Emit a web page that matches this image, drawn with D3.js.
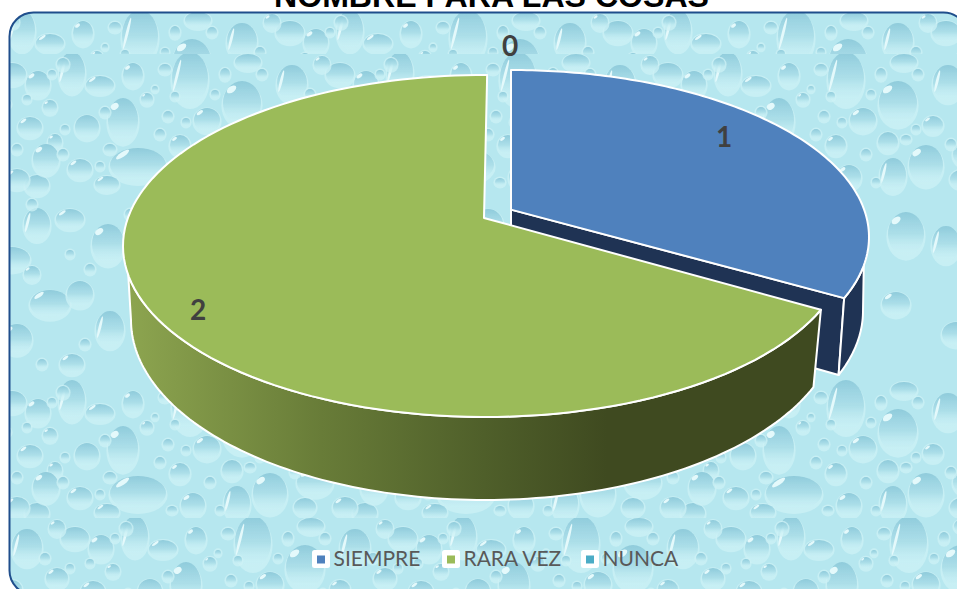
<!DOCTYPE html>
<html><head><meta charset="utf-8">
<script src="https://cdnjs.cloudflare.com/ajax/libs/d3/7.8.5/d3.min.js"></script>
<style>html,body{margin:0;padding:0;background:#fff;overflow:hidden}svg{display:block}</style>
</head><body><svg id="c" width="957" height="589"></svg>
<script>
const chartTitle = "NOMBRE PARA LAS COSAS";
const categories = ["SIEMPRE", "RARA VEZ", "NUNCA"];
const values = [1, 2, 0];
const colors = ["#4f81bd", "#9bbb59", "#4bacc6"];

// decorative water-drop wallpaper, one 328px tile: x, y, rx, ry, kind
const texture = [
 [12,18,13,20,"s"],[40,31,14,9,"h"],[73,21,10,12,"h"],[306,30,12,13,"h"],[63,66,15,22,"h"],[27,73,12,12,"n"],
 [318,53,7,7,"h"],[298,73,12,10,"h"],[120,91,10,10,"h"],[78,111,28,17,"h"],[20,115,12,10,"h"],[305,131,12,10,"n"],
 [47,130,12,8,"h"],[133,123,12,12,"h"],[147,66,13,12,"h"],[172,88,10,10,"n"],[210,111,17,20,"h"],[177,121,13,17,"s"],
 [87,45,6,6,"h"],[323,88,7,8,"h"],[130,24,18,26,"s"],[182,49,19,22,"h"],[232,29,15,18,"s"],[188,8,13,8,"n"],
 [217,71,10,9,"h"],[285,125,12,10,"h"],[314,105,13,15,"h"],[255,100,18,14,"h"],[245,125,11,9,"n"],[262,60,11,10,"h"],
 [280,20,14,11,"n"],[262,10,8,8,"h"],
 [10,165,14,10,"h"],[48,190,16,20,"h"],[305,170,13,16,"s"],[280,205,18,12,"h"],[20,240,13,13,"n"],[318,250,20,14,"h"],
 [50,275,14,18,"s"],[285,285,15,15,"h"],[12,310,12,10,"h"],[300,220,8,8,"h"],[190,180,18,22,"h"],[180,250,14,12,"h"],
 [100,170,15,15,"h"],[110,260,20,14,"h"],[230,190,14,18,"s"],[240,280,14,12,"n"],
 // small drops
 [105,15,6,5,"n"],[108,62,5,5,"n"],[45,58,5,5,"n"],[3,10,6,6,"n"],[165,20,5,6,"n"],[202,20,5,5,"n"],[250,40,5,5,"n"],
 [115,42,4,4,"n"],[100,80,5,5,"n"],[150,100,5,5,"n"],[155,40,4,4,"n"],[190,85,5,4,"n"],[50,95,6,5,"n"],[3,100,5,5,"n"],
 [285,95,5,5,"n"],[275,50,4,4,"n"],[40,112,4,4,"n"],[112,128,5,4,"n"],[160,128,4,4,"n"],[235,90,5,5,"n"],[320,20,4,4,"n"],
 [295,45,4,4,"n"],[200,75,4,4,"n"],[95,35,3,3,"n"],[126,68,4,4,"n"],[5,75,4,4,"n"],[70,160,5,5,"n"],[30,215,5,5,"n"],
 [300,150,5,5,"n"],[270,165,5,5,"n"],[10,200,4,4,"n"],[75,235,5,5,"n"],[25,290,5,5,"n"],[310,310,5,5,"n"],[265,250,5,5,"n"]
];

const W = 957, H = 589, TILE = 328;
const svg = d3.select("#c");
const defs = svg.append("defs");

const dropGrad = defs.append("linearGradient").attr("id","drop").attr("x1",0).attr("y1",0).attr("x2",0).attr("y2",1);
[[0,"#8fcbdb",1],[0.5,"#a7dce7",0.85],[0.9,"#c6eff5",0.25],[1,"#c6eff5",0]]
  .forEach(s=>dropGrad.append("stop").attr("offset",s[0]).attr("stop-color",s[1]).attr("stop-opacity",s[2]));
const blur = defs.append("filter").attr("id","soft").attr("x",0).attr("y",0).attr("width",1).attr("height",1);
blur.append("feGaussianBlur").attr("stdDeviation",0.7);

const tile = defs.append("g").attr("id","tile");
tile.append("rect").attr("width",TILE).attr("height",TILE).attr("fill","#b6e7ef");
const tileInner = tile.append("g").attr("filter","url(#soft)");
[-TILE,0,TILE].forEach(ox=>[-TILE,0,TILE].forEach(oy=>{
  const g = tileInner.append("g").attr("transform",`translate(${ox},${oy})`);
  texture.forEach(([x,y,rx,ry,k])=>{
    if (x+ox+rx+3<0||x+ox-rx-3>TILE||y+oy+ry+3<0||y+oy-ry-3>TILE) return;
    g.append("ellipse").attr("cx",x).attr("cy",y+ry*0.12).attr("rx",rx+1.6).attr("ry",ry+2)
      .attr("fill","#cdf2f6").attr("opacity",0.75);
    g.append("ellipse").attr("cx",x).attr("cy",y).attr("rx",rx).attr("ry",ry).attr("fill","url(#drop)");
    if (k==="h") g.append("ellipse").attr("cx",x-rx*0.55).attr("cy",y-ry*0.62)
      .attr("rx",Math.max(1,rx*0.28)).attr("ry",Math.max(0.8,ry*0.14))
      .attr("transform",`rotate(-35 ${x-rx*0.55} ${y-ry*0.62})`).attr("fill","#e4f9fb");
    if (k==="s") g.append("ellipse").attr("cx",x-rx*0.72).attr("cy",y-ry*0.1)
      .attr("rx",1.4).attr("ry",ry*0.62)
      .attr("transform",`rotate(14 ${x-rx*0.72} ${y-ry*0.1})`).attr("fill","#e4f9fb");
  });
}));

const bands = [
  {id:"bA", ox:10,  oy:12,  y:0,   h:54},
  {id:"bB", ox:60,  oy:54,  y:54,  h:328},
  {id:"bC", ox:60,  oy:382, y:382, h:136},
  {id:"bD", ox:123, oy:518, y:518, h:71}
];
bands.forEach(b=>{
  defs.append("pattern").attr("id",b.id).attr("patternUnits","userSpaceOnUse")
    .attr("x",b.ox).attr("y",b.oy).attr("width",TILE).attr("height",TILE)
    .append("use").attr("href","#tile");
});
const panel = {x:9.5,y:12.5,w:958,h:582,r:24};
defs.append("clipPath").attr("id","panelClip").append("rect")
  .attr("x",panel.x).attr("y",panel.y).attr("width",panel.w).attr("height",panel.h).attr("rx",panel.r);

const sideGrad = defs.append("linearGradient").attr("id","greenSide").attr("gradientUnits","userSpaceOnUse")
  .attr("x1",131).attr("y1",0).attr("x2",811).attr("y2",0);
[[0,"#8ca44f"],[0.28,"#687c38"],[0.52,"#4f5f2a"],[0.7,"#3f4a20"],[1,"#3f4a20"]]
  .forEach(s=>sideGrad.append("stop").attr("offset",s[0]).attr("stop-color",s[1]));

const bg = svg.append("g").attr("clip-path","url(#panelClip)");
bands.forEach(b=>bg.append("rect").attr("x",0).attr("y",b.y).attr("width",W+20).attr("height",b.h).attr("fill",`url(#${b.id})`));
svg.append("rect").attr("x",panel.x).attr("y",panel.y).attr("width",panel.w).attr("height",panel.h).attr("rx",panel.r)
  .attr("fill","none").attr("stroke","#1f4e8c").attr("stroke-width",2);

svg.append("text").attr("x",491.5).attr("y",6.5).attr("text-anchor","middle")
  .attr("font-family","'Liberation Sans',Arial,sans-serif").attr("font-weight","bold").attr("font-size",32)
  .attr("textLength",435).attr("lengthAdjust","spacingAndGlyphs")
  .attr("fill","#000").text(chartTitle);

// pie geometry: true angles from d3.pie, seen through a perspective tilt
const tilt = 0.164;
const project = th => {
  const u = Math.sin(th), v = -Math.cos(th), d = 1 - tilt*v;
  return [u*Math.sqrt(1-tilt*tilt)/d, (v-tilt)/d];
};
const geo = [
  {rot:0,     top:{cx:511,cy:237,rx:358,ry:167}, bot:{cx:511,cy:311,rx:352,ry:175}},
  {rot:0.007, top:{cx:485,cy:246,rx:362,ry:171}, bot:{cx:485,cy:320,rx:354,ry:180}},
  {rot:0,     top:{cx:511,cy:237,rx:358,ry:167}, bot:{cx:511,cy:311,rx:352,ry:175}}
];
const at = (e,th)=>{const [u,v]=project(th);return [e.cx+e.rx*u,e.cy+e.ry*v];};
const apex = e => [e.cx, e.cy - e.ry*tilt];
const line = d3.line();
const arcPts = (e,a,b)=>d3.range(0,121).map(i=>at(e,a+(b-a)*i/120));
const inv = v => { // true angle on the near side whose projected v equals v
  const w=(v+tilt)/(1+tilt*v); return Math.PI-Math.acos(w);
};

const arcs = d3.pie().sort(null).startAngle(0).endAngle(2*Math.PI)(values);
const pies = svg.append("g");
const shape = (pts,fill)=>pies.append("path").attr("d",line(pts)+"Z").attr("fill",fill)
  .attr("stroke","#fff").attr("stroke-width",2).attr("stroke-linejoin","round");

// blue slice: inner wall, outer wall, top
{
  const {top,bot} = geo[0], a = arcs[0];
  const dark = "#1f3354";
  shape([apex(top),at(top,a.endAngle),at(bot,a.endAngle),apex(bot)],dark);
  const s0 = inv(0.17), s1 = Math.PI/2 + 0.17;
  shape([...arcPts(top,s0,a.endAngle),...arcPts(bot,a.endAngle,s1)],dark);
  shape([apex(top),...arcPts(top,a.startAngle,a.endAngle)],colors[0]);
}
// green slice: outer wall, top
{
  const {top,bot,rot} = geo[1], a = arcs[1];
  const s = a.startAngle+rot, e = a.endAngle+rot;
  const sEnd = 2*Math.PI - inv(0.17), bEnd = 2*Math.PI - (Math.PI/2 + 0.165);
  shape([...arcPts(top,s,sEnd),...arcPts(bot,bEnd,s)],"url(#greenSide)");
  const ap = apex(top);
  shape([[ap[0]-1,ap[1]],...arcPts(top,s,e)],colors[1]);
}

// data labels
const labelPos = [[724,137],[198,310],[510,46]];
svg.append("g").selectAll("text").data(values).join("text")
  .attr("x",(d,i)=>labelPos[i][0]).attr("y",(d,i)=>labelPos[i][1]+10)
  .attr("text-anchor","middle").attr("font-family","Lato,'Open Sans',sans-serif")
  .attr("font-weight","bold").attr("font-size",28).attr("fill","#404040").text(d=>d);

// legend
const legendX = [312,442,581];
const leg = svg.append("g").selectAll("g").data(categories).join("g")
  .attr("transform",(d,i)=>`translate(${legendX[i]},550)`);
leg.append("rect").attr("width",18).attr("height",18).attr("rx",2.5).attr("fill","#fff");
leg.append("rect").attr("x",5).attr("y",5.5).attr("width",8).attr("height",8).attr("fill",(d,i)=>colors[i]);
leg.append("text").attr("x",21.5).attr("y",16).attr("font-family","Lato,'Open Sans',sans-serif")
  .attr("font-size",21).attr("fill","#595959").text(d=>d);
</script></body></html>
